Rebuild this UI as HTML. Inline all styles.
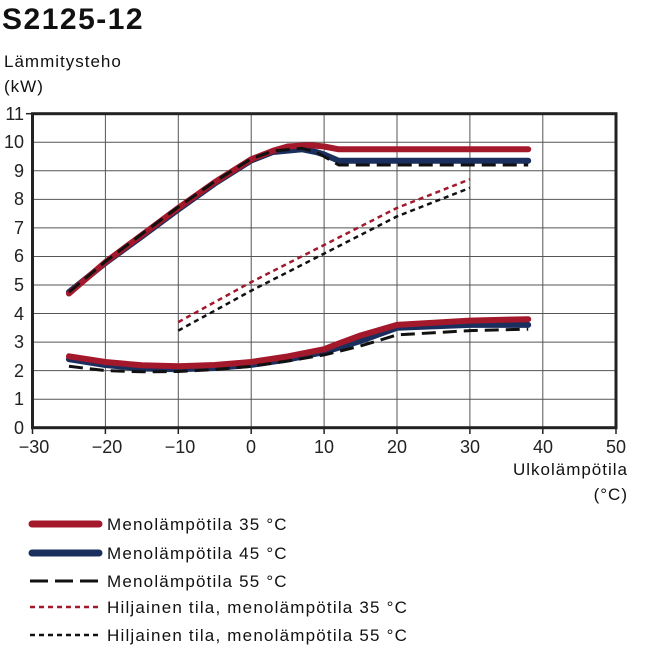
<!DOCTYPE html><html><head><style>body{margin:0;background:#fff;}svg{display:block;font-family:"Liberation Sans",sans-serif;}</style></head><body>
<svg width="652" height="651" xmlns="http://www.w3.org/2000/svg">
<text x="2" y="29" font-size="30" font-weight="bold" fill="#111" letter-spacing="1.5">S2125-12</text>
<text x="4" y="67" font-size="17" fill="#111" letter-spacing="1">Lämmitysteho</text>
<text x="4" y="92" font-size="17" fill="#111" letter-spacing="1">(kW)</text>
<g stroke="#555" stroke-width="1">
<line x1="105.4" y1="113.7" x2="105.4" y2="427.7"/><line x1="178.3" y1="113.7" x2="178.3" y2="427.7"/><line x1="251.2" y1="113.7" x2="251.2" y2="427.7"/><line x1="324.1" y1="113.7" x2="324.1" y2="427.7"/><line x1="397" y1="113.7" x2="397" y2="427.7"/><line x1="469.9" y1="113.7" x2="469.9" y2="427.7"/><line x1="542.8" y1="113.7" x2="542.8" y2="427.7"/>
<line x1="32.5" y1="142.25" x2="616" y2="142.25"/><line x1="32.5" y1="170.8" x2="616" y2="170.8"/><line x1="32.5" y1="199.35" x2="616" y2="199.35"/><line x1="32.5" y1="227.9" x2="616" y2="227.9"/><line x1="32.5" y1="256.45" x2="616" y2="256.45"/><line x1="32.5" y1="285" x2="616" y2="285"/><line x1="32.5" y1="313.55" x2="616" y2="313.55"/><line x1="32.5" y1="342.1" x2="616" y2="342.1"/><line x1="32.5" y1="370.65" x2="616" y2="370.65"/><line x1="32.5" y1="399.2" x2="616" y2="399.2"/>
</g>
<rect x="32.5" y="113.7" width="583.5" height="314" fill="none" stroke="#222" stroke-width="3"/>
<g stroke="#222" stroke-width="1.5"><line x1="32.5" y1="428" x2="32.5" y2="434"/><line x1="105.4" y1="428" x2="105.4" y2="434"/><line x1="178.3" y1="428" x2="178.3" y2="434"/><line x1="251.2" y1="428" x2="251.2" y2="434"/><line x1="324.1" y1="428" x2="324.1" y2="434"/><line x1="397" y1="428" x2="397" y2="434"/><line x1="469.9" y1="428" x2="469.9" y2="434"/><line x1="542.8" y1="428" x2="542.8" y2="434"/><line x1="616" y1="428" x2="616" y2="434"/>
<line x1="26" y1="113.7" x2="32" y2="113.7"/></g>
<g font-size="18" fill="#222" text-anchor="end">
<text x="24" y="120">11</text><text x="24" y="148">10</text><text x="24" y="177">9</text><text x="24" y="205">8</text><text x="24" y="234">7</text><text x="24" y="262">6</text><text x="24" y="291">5</text><text x="24" y="320">4</text><text x="24" y="348">3</text><text x="24" y="377">2</text><text x="24" y="405">1</text><text x="24" y="434">0</text>
</g>
<g font-size="18" fill="#222" text-anchor="middle">
<text x="34" y="453">−30</text><text x="107" y="453">−20</text><text x="180" y="453">−10</text><text x="251" y="453">0</text><text x="324" y="453">10</text><text x="397" y="453">20</text><text x="470" y="453">30</text><text x="543" y="453">40</text><text x="616" y="453">50</text>
</g>
<text x="628" y="475" font-size="17" fill="#111" text-anchor="end" letter-spacing="1">Ulkolämpötila</text>
<text x="628" y="500" font-size="17" fill="#111" text-anchor="end" letter-spacing="1">(°C)</text>
<g fill="none" stroke-linejoin="round" stroke-linecap="round">
<polyline stroke="#1b2f5e" stroke-width="6" points="68.95,292.1 105.4,263 141.85,236.5 178.3,209.5 214.75,183.5 251.2,160.5 273,152 302.2,149.3 316,152 324.1,154.5 338.7,160.8 528.2,160.8"/>
<polyline stroke="#a3182a" stroke-width="6" points="68.95,293.5 105.4,262.1 141.85,235 178.3,207.9 214.75,182.2 251.2,159.3 273,150.8 287.65,146.5 309.5,145.1 324.1,146.5 338.7,149.3 528.2,149.3"/>
<polyline stroke="#111" stroke-width="3" stroke-dasharray="14,7" stroke-linecap="butt" points="68.95,292.1 105.4,261.5 141.85,234 178.3,207 214.75,181.5 251.2,158.8 273,151 302.2,148.3 316,152 324.1,156.5 338.7,165 528.2,165"/>
<polyline stroke="#a3182a" stroke-width="2.5" stroke-dasharray="5,4" stroke-linecap="butt" points="178.3,322.1 251.2,282.1 324.1,245 397,207.9 469.9,179.3"/>
<polyline stroke="#111" stroke-width="2.5" stroke-dasharray="5,4" stroke-linecap="butt" points="178.3,330.6 251.2,290.7 324.1,253.6 397,216.4 469.9,187.9"/>
<polyline stroke="#1b2f5e" stroke-width="6" points="68.95,359.2 105.4,365 141.85,368.5 178.3,369.2 214.75,368 251.2,364.9 287.65,359.5 324.1,352.1 360.5,341 397,327.8 469.9,324.9 528.2,324.9"/>
<polyline stroke="#a3182a" stroke-width="6" points="68.95,356.3 105.4,362 141.85,365.3 178.3,366.3 214.75,365 251.2,362 287.65,356.5 324.1,349.2 338.7,343.5 360.5,335.5 397,324.9 469.9,320.6 528.2,319.2"/>
<polyline stroke="#111" stroke-width="3" stroke-dasharray="14,7" stroke-linecap="butt" points="68.95,366.3 105.4,370.6 141.85,371.8 178.3,371.5 214.75,369.5 251.2,366.3 287.65,361 324.1,354.9 360.5,346 397,334.9 469.9,330.6 528.2,329.2"/>
</g>
<g fill="none">
<line x1="32" y1="524" x2="99" y2="524" stroke="#a3182a" stroke-width="7" stroke-linecap="round"/>
<line x1="32" y1="553" x2="99" y2="553" stroke="#1b2f5e" stroke-width="7" stroke-linecap="round"/>
<line x1="30" y1="581" x2="100" y2="581" stroke="#111" stroke-width="3" stroke-dasharray="18,7"/>
<line x1="30" y1="607" x2="100" y2="607" stroke="#a3182a" stroke-width="2.5" stroke-dasharray="5,4"/>
<line x1="30" y1="635" x2="100" y2="635" stroke="#111" stroke-width="2.5" stroke-dasharray="5,4"/>
</g>
<g font-size="17" fill="#111" letter-spacing="1.2">
<text x="107" y="530">Menolämpötila 35 °C</text>
<text x="107" y="559">Menolämpötila 45 °C</text>
<text x="107" y="587">Menolämpötila 55 °C</text>
<text x="107" y="613">Hiljainen tila, menolämpötila 35 °C</text>
<text x="107" y="641">Hiljainen tila, menolämpötila 55 °C</text>
</g>
</svg>
</body></html>
